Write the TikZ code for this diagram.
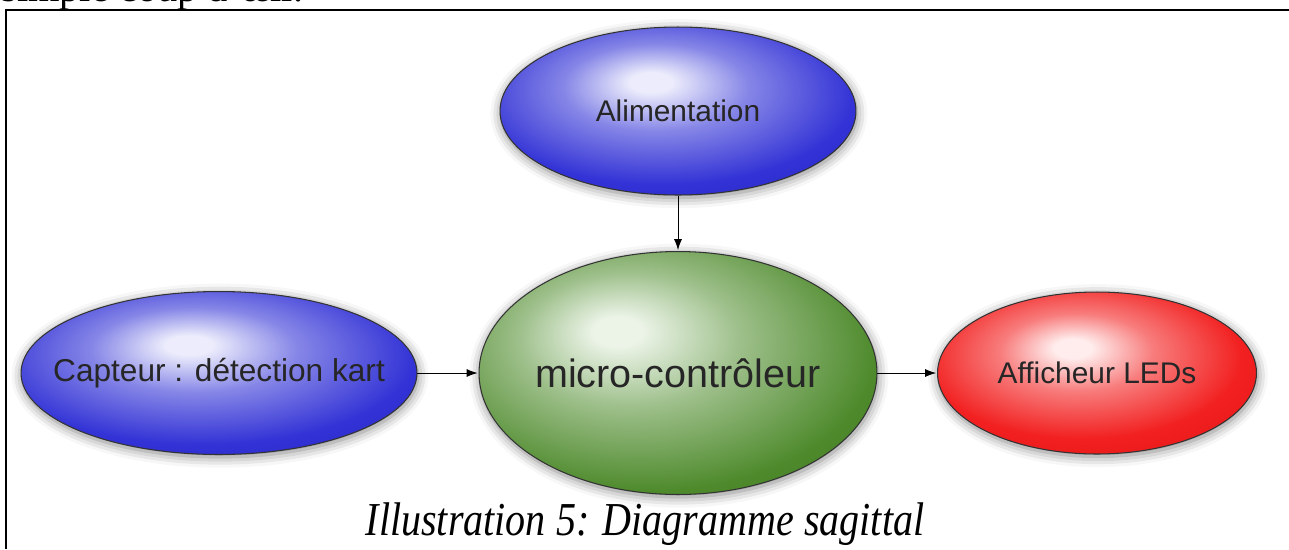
\documentclass[tikz,border=0pt]{standalone}
\usepackage{fontspec}
\setmainfont{Liberation Serif}
\setsansfont{Liberation Sans}
\usetikzlibrary{arrows.meta,shapes.geometric,shadows.blur}

\definecolor{bleuF}{RGB}{50,50,214}
\definecolor{bleuS}{RGB}{34,34,192}
\definecolor{bleuC}{RGB}{236,236,252}
\definecolor{vertF}{RGB}{78,138,44}
\definecolor{vertS}{RGB}{62,120,32}
\definecolor{vertC}{RGB}{236,244,232}
\definecolor{rougeF}{RGB}{242,32,32}
\definecolor{rougeS}{RGB}{224,18,18}
\definecolor{rougeC}{RGB}{255,236,236}

% lumiere en haut, un peu a gauche
\pgfdeclareradialshading{boulebleue}{\pgfpoint{-4bp}{9bp}}{color(0bp)=(bleuC); color(3bp)=(bleuC); color(13bp)=(bleuF!55!bleuC); color(27bp)=(bleuF); color(42bp)=(bleuS); color(60bp)=(bleuS)}
\pgfdeclareradialshading{boulevert}{\pgfpoint{-8bp}{9bp}}{color(0bp)=(vertC); color(3bp)=(vertC); color(14bp)=(vertF!50!vertC); color(29bp)=(vertF); color(42bp)=(vertS); color(60bp)=(vertS)}
\pgfdeclareradialshading{boulerouge}{\pgfpoint{-4bp}{8bp}}{color(0bp)=(rougeC); color(3bp)=(rougeC); color(12bp)=(rougeF!55!rougeC); color(25bp)=(rougeF); color(42bp)=(rougeS); color(60bp)=(rougeS)}

\newcommand{\sanslargeur}[1]{\makebox[0pt]{#1}}

\begin{document}
\begin{tikzpicture}[x=0.02cm, y=-0.02cm,
	bulle/.style={ellipse, draw=black!80, line width=0.6pt, inner sep=0pt,
		blur shadow={shadow xshift=0.5pt, shadow yshift=-1.5pt, shadow blur radius=6pt, shadow opacity=50},
		font=\sffamily\fontsize{17}{20}\selectfont, text=black!85},
	fleche/.style={-{Latex[length=2.2mm, width=1.6mm]}, line width=0.5pt, shorten >=0.5pt},
	legende/.style={font=\itshape\fontsize{24}{28}\selectfont}]
	\useasboundingbox (0,0) rectangle (1289,549);
	% texte coupe en haut de page
	\begin{scope}
		\clip (0,0) rectangle (1289,549);
		\node[anchor=base west, inner sep=0pt, font=\fontsize{23}{27}\selectfont] (haut) at (1,1) {simple coup d'œil.};
	\end{scope}
	% cadre
	\draw[line width=0.9pt] (1289,10) -- (6,10) -- (6,549);
	% bulles
	\node[bulle, shading=boulebleue, minimum width=7.12cm, minimum height=3.36cm] (alim) at (678,111) {\sanslargeur{Alimentation}};
	\node[bulle, shading=boulevert, minimum width=7.96cm, minimum height=4.86cm, font=\sffamily\fontsize{22.5}{26}\selectfont] (micro) at (678,373) {\sanslargeur{micro-contrôleur}};
	\node[bulle, shading=boulebleue, minimum width=7.92cm, minimum height=3.26cm, font=\sffamily\fontsize{18}{21}\selectfont] (capteur) at (219,373) {\sanslargeur{Capteur : détection kart}};
	\node[bulle, shading=boulerouge, minimum width=6.38cm, minimum height=3.24cm] (leds) at (1097,373) {\sanslargeur{Afficheur LEDs}};
	% fleches
	\draw[fleche] (alim) -- (micro);
	\draw[fleche] (capteur) -- (micro);
	\draw[fleche] (micro) -- (leds);
	% legende
	\node[legende] (titre) at (645,524) {\scalebox{0.95}[1.12]{Illustration 5: Diagramme sagittal}};
\end{tikzpicture}
\end{document}
